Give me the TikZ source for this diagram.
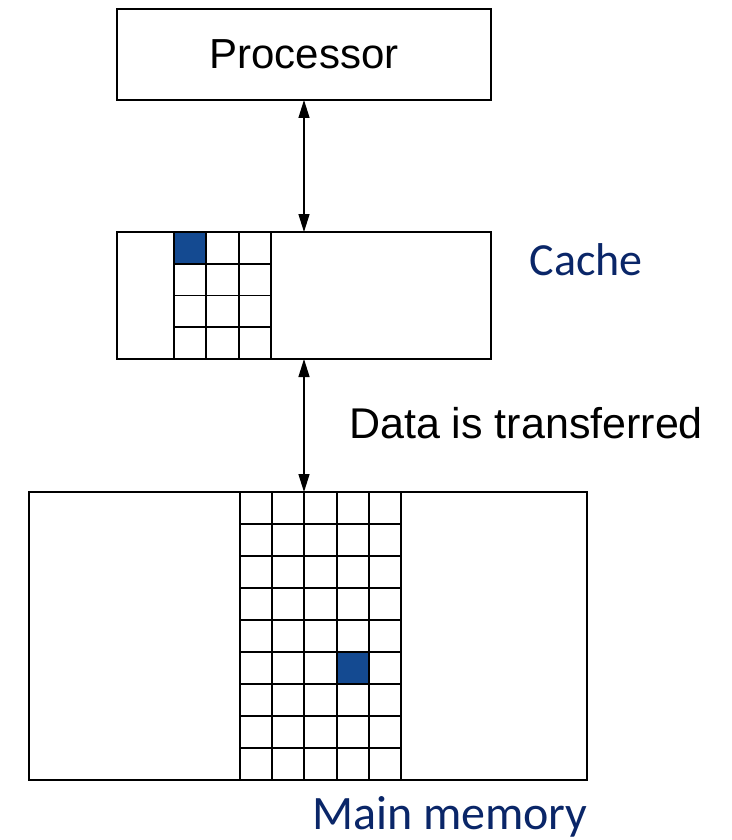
\documentclass[tikz,border=0pt]{standalone}
\usepackage{fontspec}
\setmainfont{Liberation Sans}
\newfontfamily\labelfont{Carlito}
\usetikzlibrary{arrows.meta}
\definecolor{cellblue}{RGB}{20,74,145}
\definecolor{labelnavy}{RGB}{10,38,104}
\tikzset{
  unitbox/.style={draw, line width=1.9pt, inner sep=0pt, outer sep=0pt},
  gridline/.style={line width=1.9pt},
  busarrow/.style={line width=1.4pt, {Triangle[length=18pt,width=11pt]}-{Triangle[length=18pt,width=11pt]}},
  boxtext/.style={font=\fontsize{42}{50}\selectfont},
  sidelabel/.style={text=labelnavy, anchor=base west, inner sep=0pt, outer sep=0pt}
}
\begin{document}
\begin{tikzpicture}[x=1pt, y=-1pt]
  \useasboundingbox (0,0) rectangle (731,840);

  % highlighted blocks
  \fill[cellblue] (174,232) rectangle (206.3,263.75);
  \fill[cellblue] (336.6,652) rectangle (368.8,684);

  % units
  \node[unitbox, boxtext, minimum width=374pt, minimum height=91pt] (proc) at (304,54.5) {Processor};
  \node[unitbox, minimum width=374pt, minimum height=127pt] (cache) at (304,295.5) {};
  \node[unitbox, minimum width=558pt, minimum height=288pt] (mem) at (308,636) {};

  % cache lines: 3 x 4 grid
  \foreach \x in {174,206.3,238.7,271}
    \draw[gridline] (\x,232) -- (\x,359);
  \foreach \y in {263.75,295.5,327.25}
    \draw[gridline] (174,\y) -- (271,\y);

  % memory blocks: 5 x 9 grid
  \foreach \x in {240,272.2,304.4,336.6,368.8,401}
    \draw[gridline] (\x,492) -- (\x,780);
  \foreach \y in {524,556,588,620,652,684,716,748}
    \draw[gridline] (240,\y) -- (401,\y);

  % connections
  \draw[busarrow] (proc.south) -- (cache.north);
  \draw[busarrow] (cache.south) -- (cache.south |- mem.north);

  % labels
  \node[font=\fontsize{43}{50}\selectfont, anchor=base west, inner sep=0pt] (xfer) at (349,438) {Data is transferred};
  \node[sidelabel, font=\labelfont\fontsize{46}{54}\selectfont] (cachelbl) at (529.5,275) {Cache};
  \node[sidelabel, font=\labelfont\fontsize{48}{56}\selectfont] (memlbl) at (312,829) {Main memory};
\end{tikzpicture}
\end{document}
